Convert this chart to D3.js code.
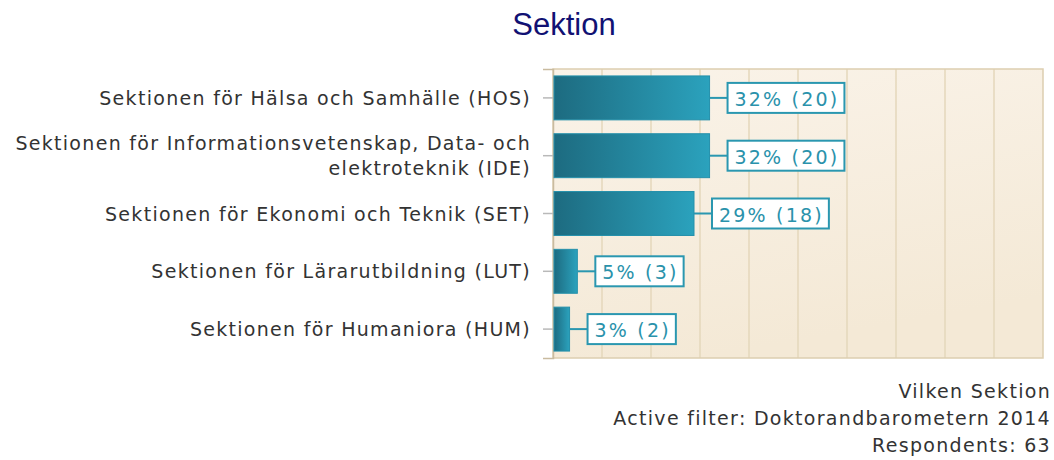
<!DOCTYPE html>
<html>
<head>
<meta charset="utf-8">
<script src="https://cdn.jsdelivr.net/npm/d3@7"></script>
<style>
  body { margin: 0; background: #fff; }
  svg { display: block; }
</style>
</head>
<body>
<div id="chart"></div>
<script>
var width = 1054;
var height = 460;

// data
var categories = [
    ["Sektionen för Hälsa och Samhälle (HOS)"],
    ["Sektionen för Informationsvetenskap, Data- och", "elektroteknik (IDE)"],
    ["Sektionen för Ekonomi och Teknik (SET)"],
    ["Sektionen för Lärarutbildning (LUT)"],
    ["Sektionen för Humaniora (HUM)"]
];
var counts = [20, 20, 18, 3, 2];
var percents = [32, 32, 29, 5, 3];
var respondents = 63;
var footer = ["Vilken Sektion", "Active filter: Doktorandbarometern 2014", "Respondents: " + respondents];

var plot = {left: 553, right: 1043, top: 69, bottom: 358};
var labelFont = "Verdana, 'DejaVu Sans', sans-serif";
var fontSize = "19px";

var svg = d3.select("#chart")
    .append("svg")
    .attr("width", width)
    .attr("height", height);

var defs = svg.append("defs");

var bg = defs.append("linearGradient")
    .attr("id", "bgGrad")
    .attr("x1", "0%").attr("y1", "0%")
    .attr("x2", "30%").attr("y2", "100%");
bg.append("stop").attr("offset", "0%").attr("stop-color", "#faf3e9");
bg.append("stop").attr("offset", "100%").attr("stop-color", "#f4e9d6");

var barGrad = defs.append("linearGradient")
    .attr("id", "barGrad")
    .attr("x1", "0%").attr("y1", "0%")
    .attr("x2", "100%").attr("y2", "0%");
barGrad.append("stop").attr("offset", "0%").attr("stop-color", "#1d6b80");
barGrad.append("stop").attr("offset", "100%").attr("stop-color", "#2ba2bd");

var x = d3.scaleLinear()
    .domain([0, 100])
    .range([plot.left, plot.right]);

var y = d3.scaleBand()
    .domain(d3.range(categories.length))
    .range([plot.top, plot.bottom])
    .paddingInner(0.24)
    .paddingOuter(0.12);

// title
svg.append("text")
    .attr("x", 564)
    .attr("y", 35)
    .attr("text-anchor", "middle")
    .text("Sektion")
    .attr("fill", "#111173")
    .style("font-family", "Arial, 'Liberation Sans', sans-serif")
    .style("font-size", "31px");

// plot background
svg.append("rect")
    .attr("x", plot.left)
    .attr("y", plot.top)
    .attr("width", plot.right - plot.left)
    .attr("height", plot.bottom - plot.top)
    .attr("fill", "url(#bgGrad)");

// grid
svg.append("g")
    .selectAll("line")
    .data(d3.range(10, 100, 10))
    .join("line")
    .attr("x1", d => x(d))
    .attr("x2", d => x(d))
    .attr("y1", plot.top)
    .attr("y2", plot.bottom)
    .attr("stroke", "#e5d7bb")
    .attr("stroke-width", 1.5);

svg.append("rect")
    .attr("x", plot.left)
    .attr("y", plot.top)
    .attr("width", plot.right - plot.left)
    .attr("height", plot.bottom - plot.top)
    .attr("fill", "none")
    .attr("stroke", "#ddceb0")
    .attr("stroke-width", 1.5);

// left axis with ticks
var yAxis = d3.axisLeft(y)
    .tickSize(10)
    .tickPadding(12)
    .tickFormat("");

var axisG = svg.append("g")
    .attr("transform", "translate(" + plot.left + ",0)")
    .call(yAxis);
axisG.select(".domain").attr("stroke", "#c9bba0").attr("stroke-width", 1.5);
axisG.selectAll(".tick line").attr("stroke", "#b9b9b9").attr("stroke-width", 1.5);

// category labels
var lineH = 25;
svg.append("g")
    .selectAll("text")
    .data(categories)
    .join("text")
    .attr("x", 531)
    .attr("y", (d, i) => y(i) + y.bandwidth() / 2 - (d.length - 1) * lineH / 2)
    .attr("text-anchor", "end")
    .attr("dominant-baseline", "central")
    .attr("fill", "#333")
    .style("font-family", labelFont)
    .style("font-size", fontSize)
    .style("letter-spacing", "1.3px")
    .each(function(d) {
        var t = d3.select(this);
        d.forEach(function(line, k) {
            t.append("tspan")
                .attr("x", 531)
                .attr("dy", k === 0 ? 0 : lineH)
                .text(line);
        });
    });

// bars
var bars = svg.append("g")
    .selectAll("g")
    .data(counts)
    .join("g");

bars.append("rect")
    .attr("x", plot.left + 1)
    .attr("y", (d, i) => y(i))
    .attr("width", d => x(d / respondents * 100) - plot.left)
    .attr("height", y.bandwidth())
    .attr("fill", "url(#barGrad)")
    .attr("stroke", "#2490ab")
    .attr("stroke-width", 1);

// value labels
var boxH = 30;
var gap = 18;
bars.each(function(d, i) {
    var g = d3.select(this);
    var xe = x(d / respondents * 100) + 1;
    var cy = y(i) + y.bandwidth() / 2;
    g.append("line")
        .attr("x1", xe)
        .attr("x2", xe + gap)
        .attr("y1", cy)
        .attr("y2", cy)
        .attr("stroke", "#2a97b0")
        .attr("stroke-width", 2);
    var txt = g.append("text")
        .attr("x", xe + gap + 7)
        .attr("y", cy + 1)
        .attr("dominant-baseline", "central")
        .attr("fill", "#2a92ab")
        .style("font-family", labelFont)
        .style("font-size", fontSize)
        .style("letter-spacing", "2.2px")
        .text(percents[i] + "% (" + d + ")");
    var w = txt.node().getComputedTextLength();
    g.insert("rect", "text")
        .attr("x", xe + gap)
        .attr("y", cy - boxH / 2)
        .attr("width", w + 12)
        .attr("height", boxH)
        .attr("fill", "#fff")
        .attr("stroke", "#2a97b0")
        .attr("stroke-width", 2);
});

// footer
svg.append("g")
    .selectAll("text")
    .data(footer)
    .join("text")
    .attr("x", 1051)
    .attr("y", (d, i) => 398 + i * 27)
    .attr("text-anchor", "end")
    .attr("fill", "#333")
    .style("font-family", labelFont)
    .style("font-size", fontSize)
    .style("letter-spacing", "1.3px")
    .text(d => d);
</script>
</body>
</html>
